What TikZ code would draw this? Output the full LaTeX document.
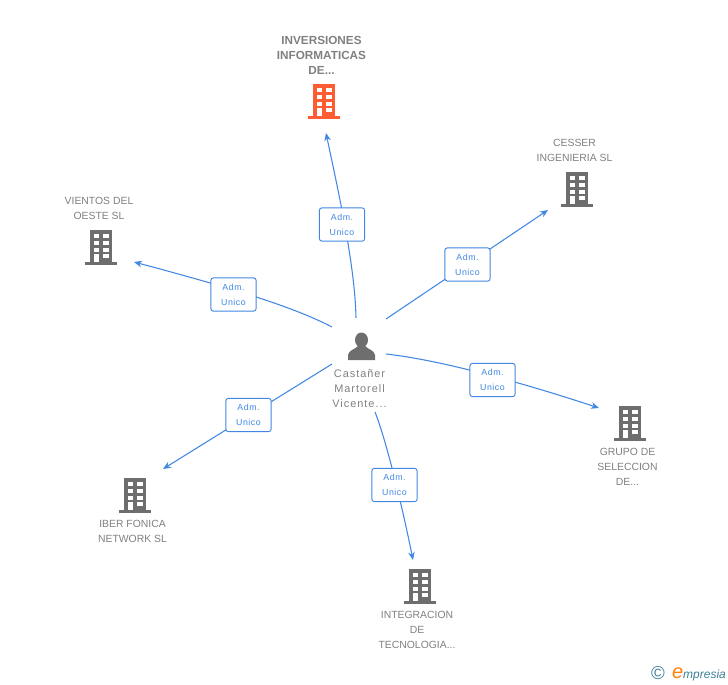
\documentclass[tikz,border=0pt]{standalone}
\usepackage{fontspec}
\setmainfont{Liberation Sans}
\newfontfamily\spaced[LetterSpace=6]{Liberation Sans}
\newfontfamily\wider[LetterSpace=9]{Liberation Sans}
\usetikzlibrary{arrows.meta}
\definecolor{linkblue}{HTML}{4287E3}
\definecolor{iconred}{HTML}{FF5C33}
\definecolor{icongray}{HTML}{6E6E6E}
\definecolor{textgray}{HTML}{808080}
\definecolor{logoteal}{HTML}{3F7F95}
\tikzset{
x=0.75pt, y=-0.75pt, % one unit is one pixel of the reference
link/.style={draw=linkblue, line width=0.8pt, -{Stealth[length=6pt,width=5pt]}}, % the blue connectors
role/.style={draw=linkblue, line width=0.7pt, fill=white, rounded corners=2pt, minimum width=34pt, minimum height=25pt, inner sep=0pt, align=center, text=linkblue, font=\spaced\fontsize{6.6}{11.2}\selectfont}, % the small boxes on them
company/.style={align=center, text=textgray, inner sep=0pt, font=\fontsize{7.8}{11.2}\selectfont}, % names under the icons
mainco/.style={company, font=\bfseries\fontsize{8.8}{11.2}\selectfont}, % name of the red one
personname/.style={company, font=\wider\fontsize{8.2}{11.2}\selectfont},
building/.pic={
    \fill (-11,-17) rectangle (11,15);
    \fill (-16,15) rectangle (16,17.5);
    \foreach \r in {-13,-6,1} {
        \fill[white] (-7,\r) rectangle (-2,\r+4);
        \fill[white] (2,\r) rectangle (8,\r+4);
    }
    \fill[white] (2,7) rectangle (8,11);
    \fill[white] (-7,7) rectangle (-2,15);
},
}

\begin{document}
\begin{tikzpicture}
    \useasboundingbox (0,0) rectangle (728,685);

    % icons
    \pic[iconred] at (324,101) {building};
    \pic[icongray] at (577,189) {building};
    \pic[icongray] at (101,247) {building};
    \pic[icongray] at (630,423) {building};
    \pic[icongray] at (135,495) {building};
    \pic[icongray] at (420,586) {building};

    % person
    \fill[icongray] (361.5,340) ellipse (6.5 and 7.5);
    \fill[icongray] (348,360) -- (348,355) .. controls (349,350) and (354,350) .. (358,346)
        -- (365,346) .. controls (369,350) and (374,350) .. (375,355) -- (375,360) -- cycle;

    % names
    \node[mainco] (main) at (321.5,55) {INVERSIONES\\INFORMATICAS\\DE...};
    \node[company] (cesser) at (574.5,150.5) {CESSER\\INGENIERIA SL};
    \node[company] (vientos) at (99,208.5) {VIENTOS DEL\\OESTE SL};
    \node[company] (grupo) at (627.5,467) {GRUPO DE\\SELECCION\\DE...};
    \node[company] (iber) at (132.5,531.5) {IBER FONICA\\NETWORK SL};
    \node[company] (integ) at (417,630) {INTEGRACION\\DE\\TECNOLOGIA...};
    \node[personname] (person) at (359.5,388.5) {Castañer\\Martorell\\Vicente...};

    % connector ends
    \coordinate (s1) at (356,318);
    \coordinate (e1) at (326,133);
    \coordinate (s2) at (386,319);
    \coordinate (e2) at (548,210);
    \coordinate (s3) at (386,354);
    \coordinate (e3) at (599,408);
    \coordinate (s4) at (375,412);
    \coordinate (e4) at (413,560);
    \coordinate (s5) at (332,364);
    \coordinate (e5) at (163,469);
    \coordinate (s6) at (332,327);
    \coordinate (e6) at (134,262);

    \draw[link] (s1) .. controls (355,265) and (338,190) .. (e1);
    \draw[link] (s2) -- (e2);
    \draw[link] (s3) .. controls (440,360) and (520,382) .. (e3);
    \draw[link] (s4) .. controls (388,445) and (405,520) .. (e4);
    \draw[link] (s5) -- (e5);
    \draw[link] (s6) .. controls (290,305) and (220,285) .. (e6);

    \node[role] (r1) at (342,224.5) {Adm.\\Unico};
    \node[role] (r2) at (467.5,264.5) {Adm.\\Unico};
    \node[role] (r3) at (492.5,380) {Adm.\\Unico};
    \node[role] (r4) at (394.5,485) {Adm.\\Unico};
    \node[role] (r5) at (248.5,415) {Adm.\\Unico};
    \node[role] (r6) at (233.5,294.5) {Adm.\\Unico};

    % logo
    \node[inner sep=0pt, text=logoteal, font=\fontsize{14}{14}\selectfont] (copyr) at (658,673.5) {©};
    \node[inner sep=0pt, text=logoteal, font=\itshape\fontsize{9}{11}\selectfont] (brand) at (699,674) {{\color{orange}\fontsize{15}{11}\selectfont e}mpresia};
\end{tikzpicture}
\end{document}
